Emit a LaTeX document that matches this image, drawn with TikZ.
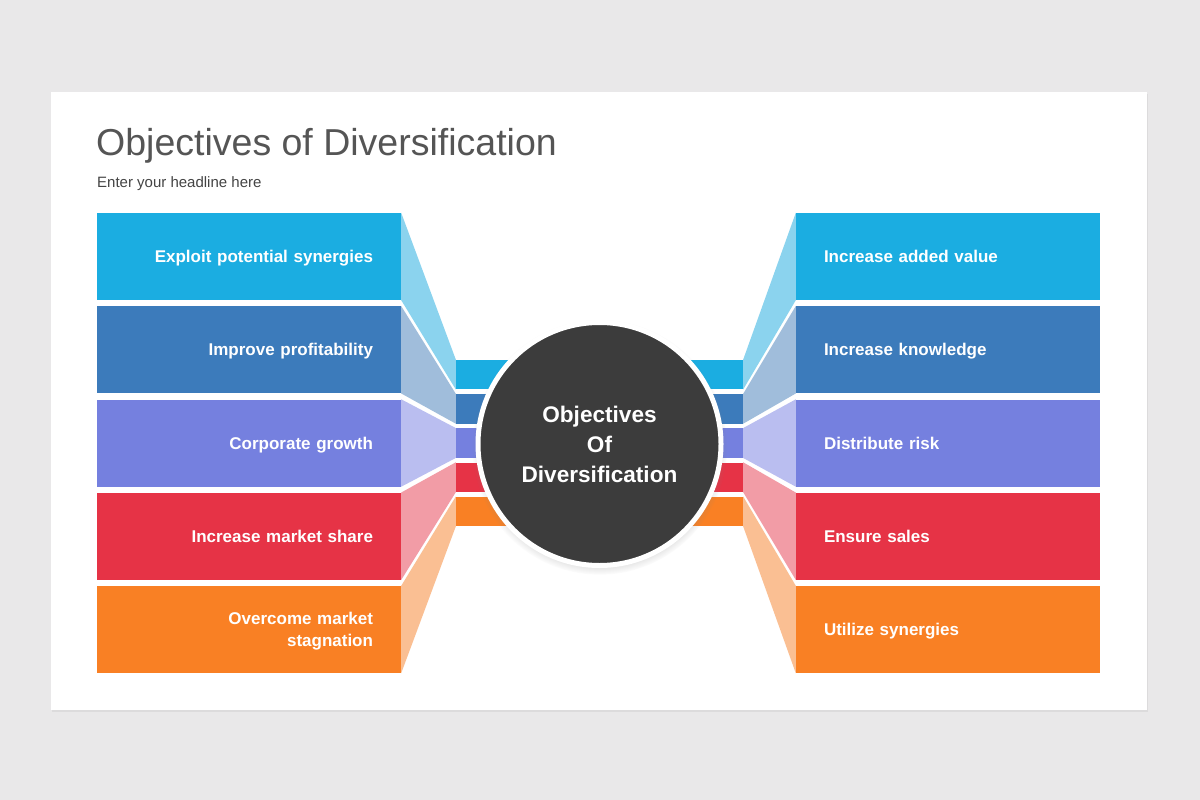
\documentclass[tikz,border=0pt]{standalone}
\usepackage{fontspec}
\setmainfont{Liberation Sans}
\usetikzlibrary{shadows}
\definecolor{bggray}{HTML}{E9E8E9}
\definecolor{titlegray}{HTML}{555555}
\definecolor{subgray}{HTML}{444444}
\definecolor{hubgray}{HTML}{3C3C3C}
\definecolor{ocyan}{HTML}{1BADE1}
\definecolor{oblue}{HTML}{3C7BBB}
\definecolor{opurple}{HTML}{7580DF}
\definecolor{ored}{HTML}{E63346}
\definecolor{oorange}{HTML}{F98024}
\definecolor{lcyan}{HTML}{8BD3EE}
\definecolor{lblue}{HTML}{A0BDDB}
\definecolor{lpurple}{HTML}{BABEF0}
\definecolor{lred}{HTML}{F29CA6}
\definecolor{lorange}{HTML}{FABF93}
\begin{document}
\begin{tikzpicture}[x=1pt, y=-1pt,
	box/.style={rectangle, minimum width=304pt, minimum height=87pt, text width=248pt, text depth=0pt, inner xsep=28pt, inner ysep=0pt, text=white, font=\fontsize{17}{22}\selectfont\bfseries},
	lbox/.style={box, align=right},
	rbox/.style={box, align=left},
	strip/.style={rectangle, minimum width=287pt, minimum height=29.5pt, inner sep=0pt}]
	% slide
	\fill[bggray] (0,0) rectangle (1200,800);
	\fill[white, drop shadow={shadow xshift=1pt, shadow yshift=-2pt, opacity=0.12}] (51,92) rectangle (1147,710);
	\node[anchor=base west, inner sep=0pt, text=titlegray, font=\fontsize{37.5}{44}\selectfont] (title) at (96,155) {Objectives of Diversification};
	\node[anchor=base west, inner sep=0pt, text=subgray, font=\fontsize{15}{18}\selectfont] (headline) at (97,187.3) {Enter your headline here};

	% left column
	\node[lbox, fill=ocyan] (synergies) at (249,256.5) {Exploit potential synergies};
	\node[lbox, fill=oblue] (profit) at (249,349.75) {Improve profitability};
	\node[lbox, fill=opurple] (growth) at (249,443) {Corporate growth};
	\node[lbox, fill=ored] (share) at (249,536.25) {Increase market share};
	\node[lbox, fill=oorange, text depth=22pt] (stagnation) at (249,629.5) {Overcome market\\stagnation};

	% right column
	\node[rbox, fill=ocyan] (value) at (948,256.5) {Increase added value};
	\node[rbox, fill=oblue] (knowledge) at (948,349.75) {Increase knowledge};
	\node[rbox, fill=opurple] (risk) at (948,443) {Distribute risk};
	\node[rbox, fill=ored] (sales) at (948,536.25) {Ensure sales};
	\node[rbox, fill=oorange] (utilize) at (948,629.5) {Utilize synergies};

	% strips behind the hub
	\node[strip, fill=ocyan] (s1) at (599.5,374.5) {};
	\node[strip, fill=oblue] (s2) at (599.5,408.75) {};
	\node[strip, fill=opurple] (s3) at (599.5,443) {};
	\node[strip, fill=ored] (s4) at (599.5,477.25) {};
	\node[strip, fill=oorange] (s5) at (599.5,511.5) {};

	% fans
	\fill[lcyan] (synergies.north east) -- (s1.north west) -- (s1.south west) -- (synergies.south east) -- cycle;
	\fill[lblue] (profit.north east) -- (s2.north west) -- (s2.south west) -- (profit.south east) -- cycle;
	\fill[lpurple] (growth.north east) -- (s3.north west) -- (s3.south west) -- (growth.south east) -- cycle;
	\fill[lred] (share.north east) -- (s4.north west) -- (s4.south west) -- (share.south east) -- cycle;
	\fill[lorange] (stagnation.north east) -- (s5.north west) -- (s5.south west) -- (stagnation.south east) -- cycle;
	\fill[lcyan] (value.north west) -- (s1.north east) -- (s1.south east) -- (value.south west) -- cycle;
	\fill[lblue] (knowledge.north west) -- (s2.north east) -- (s2.south east) -- (knowledge.south west) -- cycle;
	\fill[lpurple] (risk.north west) -- (s3.north east) -- (s3.south east) -- (risk.south west) -- cycle;
	\fill[lred] (sales.north west) -- (s4.north east) -- (s4.south east) -- (sales.south west) -- cycle;
	\fill[lorange] (utilize.north west) -- (s5.north east) -- (s5.south east) -- (utilize.south west) -- cycle;

	% hub
	\node[circle, minimum size=243pt, fill=hubgray, draw=white, line width=5pt, align=center, text=white, font=\fontsize{22.6}{30}\selectfont\bfseries, circular drop shadow={shadow xshift=0pt, shadow yshift=-3pt, shadow scale=1.05, opacity=0.45}] (hub) at (599.5,444) {Objectives\\Of\\Diversification};
\end{tikzpicture}
\end{document}
